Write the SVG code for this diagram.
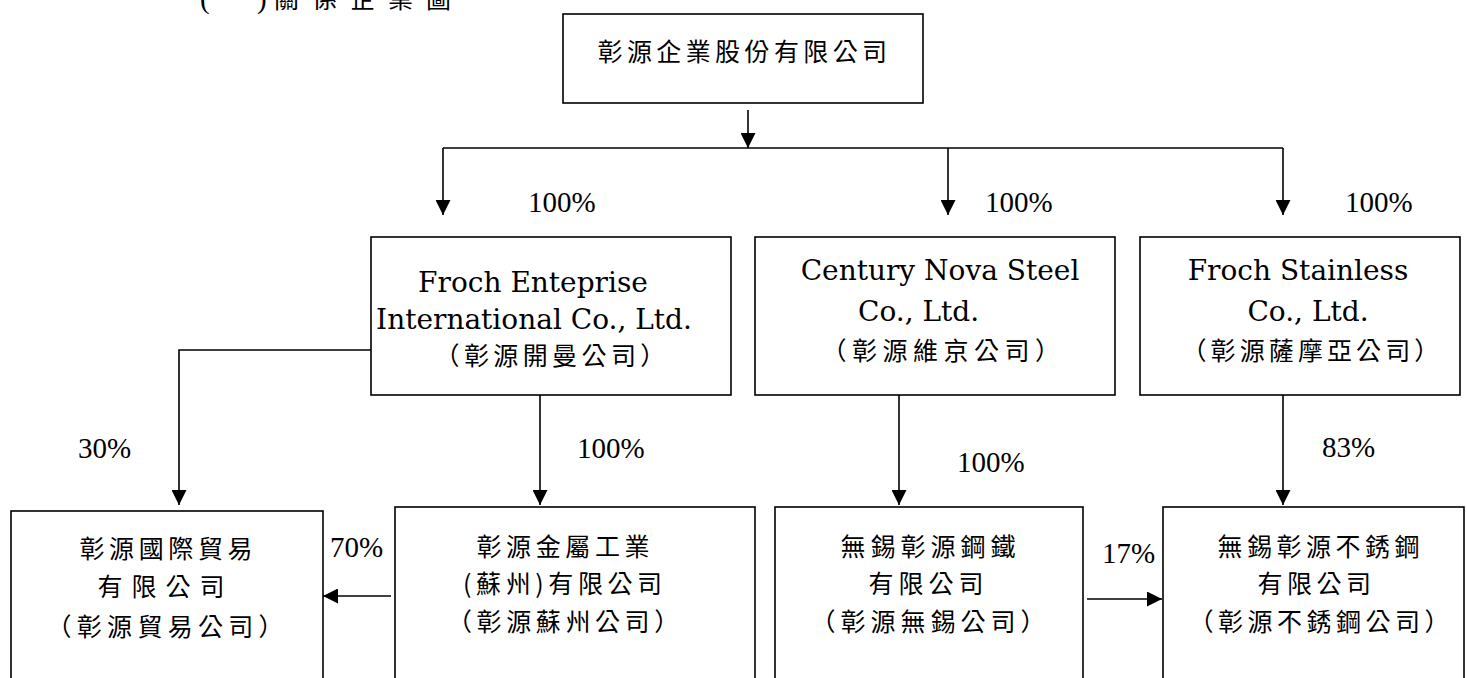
<svg xmlns="http://www.w3.org/2000/svg" width="1467" height="678" viewBox="0 0 1467 678">
<style>
.box{fill:#fff;stroke:#000;stroke-width:1.6}
.cn{font-family:"Noto Sans CJK TC","Noto Sans CJK SC",sans-serif;font-size:25px;fill:#000}
.en{font-family:"DejaVu Serif","Liberation Serif",serif;font-size:28px;fill:#000}
.pct{font-family:"Liberation Serif",serif;font-size:29px;fill:#000}
.ln{fill:none;stroke:#000;stroke-width:1.6}
</style>
<defs>
<marker id="ah" markerUnits="userSpaceOnUse" markerWidth="15" markerHeight="15" refX="15" refY="7.5" orient="auto">
<path d="M0,0 L15,7.5 L0,15 z" fill="#000"/>
</marker>
</defs>
<rect width="1467" height="678" fill="#fff"/>
<g id="title">
<text class="pct" x="200" y="8" font-size="24">(</text>
<text class="pct" x="257" y="8" font-size="24">)</text>
<text class="cn" x="274" y="8" letter-spacing="13">關係企業圖</text>
</g>
<g id="connectors">
<path class="ln" d="M748,110 V148" marker-end="url(#ah)"/>
<path class="ln" d="M443,148 H1283"/>
<path class="ln" d="M443,148 V215" marker-end="url(#ah)"/>
<path class="ln" d="M948,148 V215" marker-end="url(#ah)"/>
<path class="ln" d="M1283,148 V215" marker-end="url(#ah)"/>
<path class="ln" d="M540,395 V505" marker-end="url(#ah)"/>
<path class="ln" d="M371,350 H179 V505" marker-end="url(#ah)"/>
<path class="ln" d="M899,395 V505" marker-end="url(#ah)"/>
<path class="ln" d="M1283,395 V505" marker-end="url(#ah)"/>
<path class="ln" d="M391,596 H323" marker-end="url(#ah)"/>
<path class="ln" d="M1087,599 H1162" marker-end="url(#ah)"/>
<text class="pct" x="528" y="212">100%</text>
<text class="pct" x="985" y="212">100%</text>
<text class="pct" x="1345" y="212">100%</text>
<text class="pct" x="78" y="458">30%</text>
<text class="pct" x="577" y="458">100%</text>
<text class="pct" x="957" y="472">100%</text>
<text class="pct" x="1322" y="457">83%</text>
<text class="pct" x="330" y="557">70%</text>
<text class="pct" x="1102" y="563">17%</text>
</g>
<g id="parent">
<rect class="box" x="563" y="14" width="360" height="89"/>
<text class="cn" x="597.5" y="61" letter-spacing="4.4">彰源企業股份有限公司</text>
</g>
<g id="froch-enterprise">
<rect class="box" x="371" y="237" width="360" height="158"/>
<text class="en" x="533" y="292" text-anchor="middle">Froch Enteprise</text>
<text class="en" x="534" y="329" text-anchor="middle">International Co., Ltd.</text>
<text class="cn" x="434.5" y="365" letter-spacing="4.4">（彰源開曼公司）</text>
</g>
<g id="century-nova">
<rect class="box" x="755" y="237" width="360" height="158"/>
<text class="en" x="940" y="280" text-anchor="middle">Century Nova Steel</text>
<text class="en" x="858" y="321">Co., Ltd.</text>
<text class="cn" x="821.5" y="360" letter-spacing="5.5">（彰源維京公司）</text>
</g>
<g id="froch-stainless">
<rect class="box" x="1140" y="237" width="320" height="158"/>
<text class="en" x="1298" y="280" text-anchor="middle">Froch Stainless</text>
<text class="en" x="1308" y="321" text-anchor="middle">Co., Ltd.</text>
<text class="cn" x="1181.5" y="360" letter-spacing="4.1">（彰源薩摩亞公司）</text>
</g>
<g id="trading">
<rect class="box" x="11" y="511" width="312" height="190"/>
<text class="cn" x="79.5" y="558" letter-spacing="4.6">彰源國際貿易</text>
<text class="cn" x="97.5" y="596" letter-spacing="9">有限公司</text>
<text class="cn" x="46.5" y="636" letter-spacing="5.3">（彰源貿易公司）</text>
</g>
<g id="suzhou">
<rect class="box" x="395" y="507" width="360" height="190"/>
<text class="cn" x="476.5" y="556" letter-spacing="4.6">彰源金屬工業</text>
<text class="cn" x="463" y="593" letter-spacing="4.6">(蘇州)有限公司</text>
<text class="cn" x="447" y="631" letter-spacing="4.6">（彰源蘇州公司）</text>
</g>
<g id="wuxi-steel">
<rect class="box" x="775" y="507" width="308" height="190"/>
<text class="cn" x="840.5" y="556" letter-spacing="5">無錫彰源鋼鐵</text>
<text class="cn" x="868.5" y="593" letter-spacing="5">有限公司</text>
<text class="cn" x="810.5" y="631" letter-spacing="5">（彰源無錫公司）</text>
</g>
<g id="wuxi-stainless">
<rect class="box" x="1163" y="507" width="301" height="190"/>
<text class="cn" x="1217.5" y="556" letter-spacing="4.5">無錫彰源不銹鋼</text>
<text class="cn" x="1257.5" y="593" letter-spacing="4.5">有限公司</text>
<text class="cn" x="1188.5" y="631" letter-spacing="4.5">（彰源不銹鋼公司）</text>
</g>
</svg>
